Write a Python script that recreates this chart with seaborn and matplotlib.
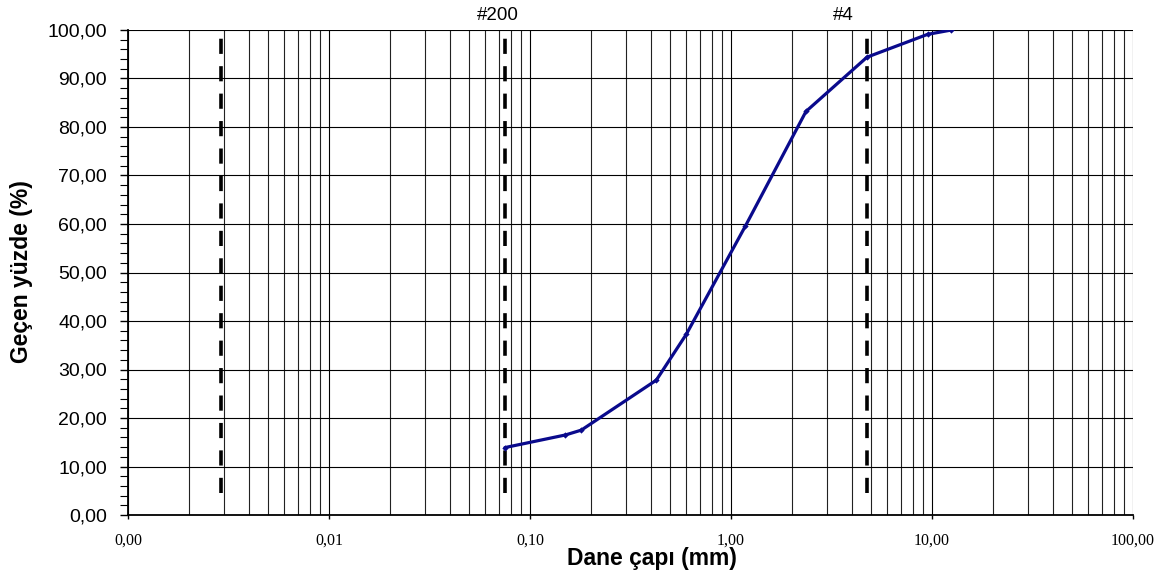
import matplotlib
matplotlib.use("Agg")
import matplotlib.pyplot as plt
import matplotlib.ticker as mticker
import numpy as np
import pandas as pd
import seaborn as sns

# Data
grain_size_mm = [0.075, 0.15, 0.18, 0.425, 0.6, 1.18, 2.36, 4.75, 9.5, 12.5]
passing_pct = [13.9, 16.5, 17.5, 27.8, 37.3, 59.6, 83.2, 94.4, 99.1, 100.0]
limit_lines_mm = [0.0029, 0.075, 4.75]
limit_labels = ["", "#200", "#4"]
limit_span = [4.5, 99.0]
x_ticks = [0.001, 0.01, 0.1, 1, 10, 100]
y_ticks = [0, 10, 20, 30, 40, 50, 60, 70, 80, 90, 100]

sns.set_style("white")
plt.rcParams['font.family'] = ['Liberation Sans', 'DejaVu Sans']
plt.rcParams.update({"text.color": "black", "xtick.color": "black",
                     "ytick.color": "black", "axes.labelcolor": "black"})

df = pd.DataFrame({"size": grain_size_mm, "pass": passing_pct})

fig = plt.figure(figsize=(11.65, 5.76), dpi=100)
ax = fig.add_axes([128/1165, 1-515/576, (1133-128)/1165, (515-30)/576])

ax.set_xscale("log")
ax.set_xlim(0.001, 100)
ax.set_ylim(0, 100)

# grid
ax.xaxis.set_major_locator(mticker.FixedLocator(x_ticks))
ax.xaxis.set_minor_locator(mticker.LogLocator(base=10, subs=np.arange(2, 10)))
ax.yaxis.set_major_locator(mticker.FixedLocator(y_ticks))
ax.yaxis.set_minor_locator(mticker.MultipleLocator(2))
ax.grid(True, which="major", axis="both", color="black", lw=0.8)
ax.grid(True, which="minor", axis="x", color="#222222", lw=0.8)
ax.set_axisbelow(True)

# dashed limit lines
for xv in limit_lines_mm:
    ax.vlines(xv, limit_span[0], limit_span[1], colors="black", lw=2.6,
              linestyles=(0, (4.2, 3.4)), zorder=3)
for xv, lab in zip(limit_lines_mm, limit_labels):
    if lab:
        off = -7 if lab == "#200" else -24
        ax.annotate(lab, xy=(xv, 1.0), xycoords=("data", "axes fraction"),
                    xytext=(off * 0.72, 7.2), textcoords="offset points",
                    ha="center", va="baseline", fontsize=13.5, color="black")

sns.lineplot(data=df, x="size", y="pass", ax=ax, color="#0a0a8c", lw=2.3,
             marker="D", markersize=3.2, markeredgewidth=0, zorder=4,
             estimator=None, sort=False)

ax.xaxis.set_major_formatter(mticker.FuncFormatter(lambda v, p: f"{v:.2f}".replace(".", ",")))
ax.xaxis.set_minor_formatter(mticker.NullFormatter())
ax.yaxis.set_major_formatter(mticker.FuncFormatter(lambda v, p: f"{v:.2f}".replace(".", ",")))

for lab in ax.get_xticklabels():
    lab.set_fontfamily(["Liberation Serif", "DejaVu Serif"])
    lab.set_fontsize(11.5)
ax.tick_params(axis="x", which="major", length=3, width=1, pad=10, bottom=True,
               color="black", labelcolor="black")
ax.tick_params(axis="x", which="minor", length=0)
ax.tick_params(axis="y", which="major", length=6, width=1, pad=9, labelsize=14, left=True,
               color="black", labelcolor="black")
ax.tick_params(axis="y", which="minor", length=6, width=0.8, left=True, color="black")

for s in ["top", "right"]:
    ax.spines[s].set_visible(False)
for s in ["left", "bottom"]:
    ax.spines[s].set_color("black")
    ax.spines[s].set_linewidth(1.3)

ax.set_xlabel("")
ax.set_ylabel("")
fig.text(652/1165, 1-559/576, "Dane çapı (mm)", ha="center", va="center",
         fontsize=16.5, fontweight="bold", color="black")
fig.text(22/1165, 1-272/576, "Geçen yüzde (%)", ha="center", va="center",
         rotation=90, fontsize=16.5, fontweight="bold", color="black")

fig.savefig("out.png", dpi=100)
